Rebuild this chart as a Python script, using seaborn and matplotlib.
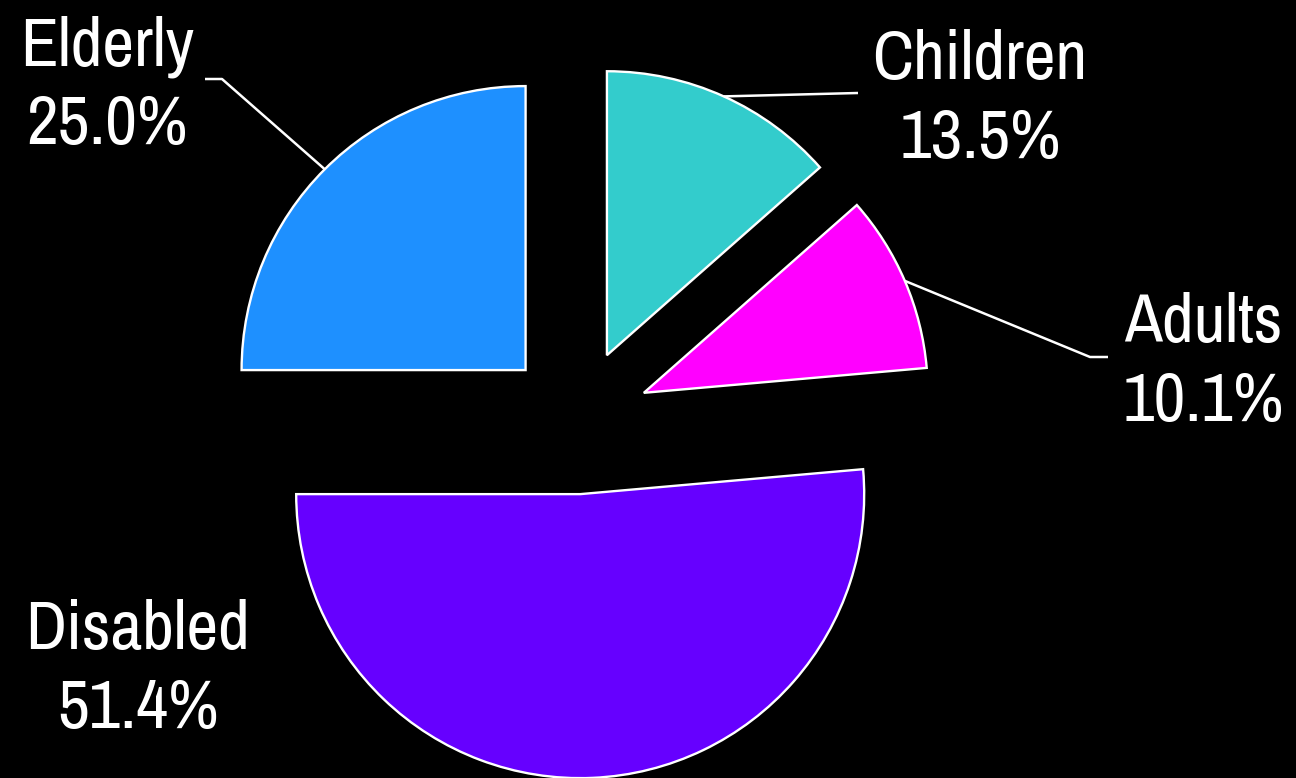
import numpy as np
import matplotlib
matplotlib.use('Agg')
import matplotlib.pyplot as plt
import seaborn as sns

# data
categories = ['Children', 'Adults', 'Disabled', 'Elderly']
shares = [13.5, 10.1, 51.4, 25.0]
slice_colors = ['#33CCCC', '#FF00FF', '#6600FF', '#1E90FF']

# label placement (pixels in the 1296x778 image): centre x, baseline of name line
label_pos = {
    'Children': (980, 79),
    'Adults': (1203, 342),
    'Disabled': (138, 649),
    'Elderly': (107, 65),
}
# leader line elbow and end (pixels); None = no leader
leader_pts = {
    'Children': [(858, 93)],
    'Adults': [(1090, 357), (1108, 357)],
    'Disabled': None,
    'Elderly': [(222, 79), (205, 79)],
}

W, H = 1296, 778
R_PX = 284.0            # pie radius in pixels
CX, CY = 577.0, 421.5   # pie centre in pixels (from top-left)
EXPLODE = 0.256


def px(x, y):
    return ((x - CX) / R_PX, (CY - y) / R_PX)


sns.set_theme(style='white', rc={'figure.facecolor': 'black', 'axes.facecolor': 'black'})
plt.rcParams['font.family'] = ['Archivo Narrow', 'Liberation Sans Narrow', 'DejaVu Sans']

fig = plt.figure(figsize=(W / 100, H / 100), dpi=100)
ax = fig.add_axes([0, 0, 1, 1])
ax.set_facecolor('black')

wedges, _ = ax.pie(shares, colors=slice_colors, startangle=90, counterclock=False,
                   explode=[EXPLODE] * len(shares),
                   wedgeprops=dict(edgecolor='white', linewidth=1.7))

ax.set_xlim(-CX / R_PX, (W - CX) / R_PX)
ax.set_ylim(-(H - CY) / R_PX, CY / R_PX)
ax.set_aspect('auto')
ax.axis('off')

for w, name, val in zip(wedges, categories, shares):
    mid = np.deg2rad((w.theta1 + w.theta2) / 2)
    cx, cy = w.center
    if leader_pts[name]:
        xs = [cx + w.r * np.cos(mid)]
        ys = [cy + w.r * np.sin(mid)]
        for p in leader_pts[name]:
            qx, qy = px(*p)
            xs.append(qx)
            ys.append(qy)
        ax.plot(xs, ys, color='white', lw=1.8, solid_capstyle='butt')
    lx, ly = label_pos[name]
    tx, ty = px(lx, ly)
    ax.text(tx, ty, name, color='white', fontsize=50, ha='center', va='baseline')
    tx2, ty2 = px(lx, ly + 79)
    ax.text(tx2, ty2, f'{val:.1f}%', color='white', fontsize=50, ha='center', va='baseline')

fig.savefig('out.png', dpi=100, facecolor='black')
